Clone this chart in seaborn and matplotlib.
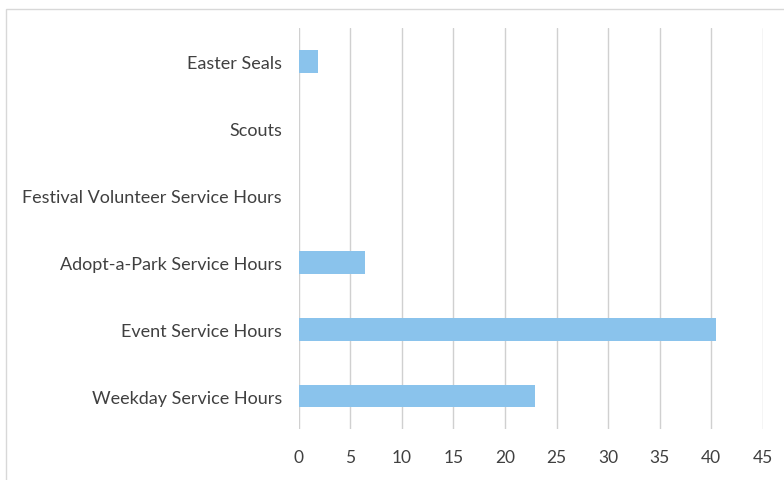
import matplotlib
matplotlib.use("Agg")
import matplotlib.pyplot as plt
import seaborn as sns
import pandas as pd
from matplotlib.patches import Rectangle

categories = ["Easter Seals", "Scouts", "Festival Volunteer Service Hours",
              "Adopt-a-Park Service Hours", "Event Service Hours", "Weekday Service Hours"]
hours = [1.9, 0, 0, 6.4, 40.5, 22.9]
x_ticks = [0, 5, 10, 15, 20, 25, 30, 35, 40, 45]

df = pd.DataFrame({"category": categories, "hours": hours})

sns.set_theme(style="white")
plt.rcParams['font.family'] = ['Lato', 'DejaVu Sans']

fig = plt.figure(figsize=(7.84, 4.81), dpi=100)
ax = fig.add_axes([0.381, 0.105, 0.592, 0.834])

sns.barplot(data=df, x="hours", y="category", color="#8AC3EC", width=0.34,
            ax=ax, orient="h", saturation=1, linewidth=0)

ax.set_xlim(0, 45)
ax.set_xticks(x_ticks)
ax.set_xticklabels([str(t) for t in x_ticks])
ax.grid(axis="x", color="#D0D0D0", linewidth=1)
ax.set_axisbelow(True)
for s in ax.spines.values():
    s.set_visible(False)
ax.set_xlabel("")
ax.set_ylabel("")
ax.tick_params(axis="x", length=0, pad=14, labelsize=12.5, labelcolor="#404040")
ax.tick_params(axis="y", length=0, pad=12, labelsize=13, labelcolor="#404040")

fig.patches.append(Rectangle((0.008, -0.01), 1.0, 0.99, transform=fig.transFigure,
                             fill=False, edgecolor="#D8D8D8", linewidth=1))

fig.savefig("out.png", dpi=100)
